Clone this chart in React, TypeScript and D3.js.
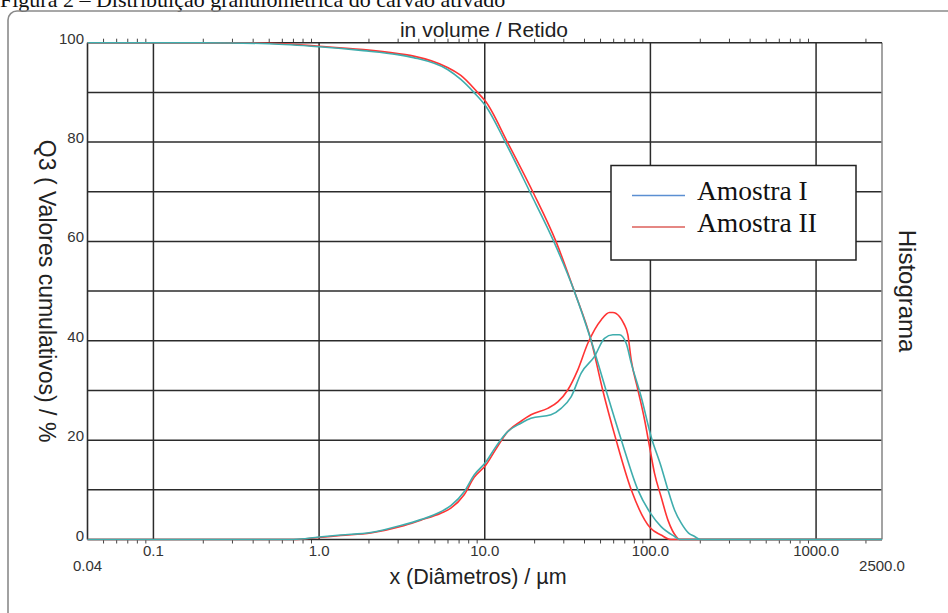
import React from "react";
import * as d3 from "d3";

// Cumulative retained Q3 (%) vs diameter (µm)
const cumDiamI = [0.04, 0.2, 0.5, 1.0, 1.85, 2.98, 3.72, 5.96, 7.17, 8.6, 10.16, 13.3, 18.7, 26.1, 34.7, 43.9, 54, 66.8, 84, 100, 116, 140, 150, 2500];
const cumValI = [100, 100, 99.8, 99.2, 98.4, 97.6, 97.0, 94.6, 92.6, 90, 87.2, 80, 70, 60, 50, 40, 30, 20, 10, 5.3, 2.6, 0.6, 0, 0];
const cumDiamII = [0.04, 0.2, 0.5, 1.0, 1.85, 2.98, 3.72, 5.96, 7.17, 9.05, 10.16, 13.7, 19.5, 26.9, 34.7, 43.9, 51.6, 62.1, 76.6, 100, 116, 133, 2500];
const cumValII = [100, 100, 99.9, 99.3, 98.6, 97.8, 97.3, 95.0, 93.4, 90, 88.1, 80, 70, 60, 50, 40, 30, 20, 10, 2.3, 0.9, 0, 0];

// Histogram values
const histDiamI = [0.04, 0.7, 1.0, 1.35, 2.05, 3.11, 4.11, 5.43, 6.24, 7.51, 8.63, 10.16, 11.68, 13.74, 16.54, 19.0, 25.1, 28.9, 33.2, 38.2, 45.9, 52.8, 59.3, 65.0, 71.4, 76.6, 88.0, 101, 116, 127.6, 140, 153.5, 170, 185, 200, 2500];
const histValI = [0, 0, 0.5, 0.9, 1.4, 2.8, 4.0, 5.6, 6.8, 9.6, 13.0, 15.6, 18.7, 21.7, 23.4, 24.4, 25.1, 26.4, 28.7, 33.5, 36.8, 40.5, 41.2, 41.2, 39.5, 35.5, 28.7, 20.7, 14.7, 10, 5.9, 3.3, 1.3, 0.6, 0, 0];
const histDiamII = [0.04, 0.7, 1.0, 1.35, 2.05, 3.11, 4.11, 5.43, 6.24, 7.51, 8.63, 10.16, 11.68, 13.74, 16.54, 19.0, 24.0, 27.6, 31.7, 36.4, 41.9, 50.4, 56.6, 59.3, 65.0, 69, 73.1, 76.6, 84.1, 92.2, 98.8, 105.9, 116, 127.6, 143, 150, 2500];
const histValII = [0, 0, 0.4, 0.8, 1.3, 2.6, 3.9, 5.3, 6.3, 9.0, 12.5, 15.0, 18.2, 21.7, 23.8, 25.1, 26.4, 27.7, 30.1, 34.1, 39.5, 44.2, 45.7, 45.7, 44.9, 43.5, 41.2, 36.1, 30.1, 24.1, 18.7, 13.3, 8.6, 3.9, 0.6, 0, 0];

const xMajorTicks = [0.1, 1, 10, 100, 1000];
const xMajorLabels = ["0.1", "1.0", "10.0", "100.0", "1000.0"];
const xEndTicks = [0.04, 2500];
const xEndLabels = ["0.04", "2500.0"];
const yGridValues = [10, 20, 30, 40, 50, 60, 70, 80, 90];
const yLabelValues = [0, 20, 40, 60, 80, 100];
const seriesNames = ["Amostra I", "Amostra II"];

const W = 948;
const H = 613;

export default function App() {
  const x = d3.scaleLog().domain([0.04, 2500]).range([87.5, 882]);
  const y = d3.scaleLinear().domain([0, 100]).range([539.5, 42.7]);
  const [x0, x1] = x.range();
  const [y0, y1] = y.range();

  const line = (ds: number[], vs: number[]) =>
    d3
      .line<number>()
      .x((d) => x(d))
      .y((_, i) => y(vs[i]))
      .curve(d3.curveMonotoneX)(ds) || "";

  const minor: number[] = [];
  for (let e = -2; e <= 3; e++) {
    for (let k = 2; k <= 9; k++) {
      const v = k * Math.pow(10, e);
      if (v > 0.04 && v < 2500) minor.push(v);
    }
  }

  const teal = "#3fadad";
  const red = "#ff3434";
  const grid = "#2b2b2b";
  const tickColor = "#333";
  const sans = "Liberation Sans, Arial, sans-serif";
  const serif = "Liberation Serif, Times New Roman, serif";

  return (
    <div style={{ position: "absolute", left: 0, top: 0, width: W, height: H, background: "#fff" }}>
      <svg width={W} height={H} style={{ display: "block" }}>
        <rect x={0} y={0} width={W} height={H} fill="#fff" />
        <text x={0} y={6.5} fontFamily={serif} fontSize={22} fill="#111">
          Figura 2 – Distribuição granulométrica do carvão ativado
        </text>
        {/* outer frame */}
        <rect x={8} y={11} width={W + 20} height={H + 20} rx={9} fill="none" stroke="#8a8a8a" strokeWidth={1.6} />

        {/* grid */}
        {yGridValues.map((v) => (
          <line key={"h" + v} x1={x0} x2={x1} y1={y(v)} y2={y(v)} stroke={grid} strokeWidth={1.5} />
        ))}
        {xMajorTicks.map((v) => (
          <line key={"v" + v} x1={x(v)} x2={x(v)} y1={y0} y2={y1} stroke={grid} strokeWidth={1.5} />
        ))}
        {/* minor ticks */}
        {minor.map((v) => (
          <g key={"m" + v}>
            <line x1={x(v)} x2={x(v)} y1={y0} y2={y0 + 4} stroke="#444" strokeWidth={1} />
            <line x1={x(v)} x2={x(v)} y1={y1} y2={y1 - 4} stroke="#444" strokeWidth={1} />
          </g>
        ))}
        {/* frame */}
        <line x1={x1} x2={x1} y1={y0} y2={y1} stroke="#8c8c8c" strokeWidth={1.6} />
        <line x1={x0} x2={x0} y1={y0} y2={y1} stroke={grid} strokeWidth={1.6} />
        <line x1={x0} x2={x1} y1={y1} y2={y1} stroke={grid} strokeWidth={1.6} />
        <line x1={x0} x2={x1} y1={y0} y2={y0} stroke={grid} strokeWidth={1.6} />

        {/* curves */}
        <path d={line(histDiamII, histValII)} fill="none" stroke={red} strokeWidth={1.6} />
        <path d={line(cumDiamII, cumValII)} fill="none" stroke={red} strokeWidth={1.6} />
        <path d={line(histDiamI, histValI)} fill="none" stroke={teal} strokeWidth={1.6} />
        <path d={line(cumDiamI, cumValI)} fill="none" stroke={teal} strokeWidth={1.6} />

        {/* y tick labels */}
        {yLabelValues.map((v) => (
          <text key={"yl" + v} x={84} y={y(v) + 1} textAnchor="end" fontFamily={sans} fontSize={15} fill={tickColor}>
            {v}
          </text>
        ))}
        {/* x tick labels */}
        {xMajorTicks.map((v, i) => (
          <text key={"xl" + v} x={x(v)} y={556} textAnchor="middle" fontFamily={sans} fontSize={15} fill={tickColor}>
            {xMajorLabels[i]}
          </text>
        ))}
        {xEndTicks.map((v, i) => (
          <text key={"xe" + v} x={x(v)} y={571} textAnchor="middle" fontFamily={sans} fontSize={15} fill={tickColor}>
            {xEndLabels[i]}
          </text>
        ))}

        {/* titles */}
        <text x={484} y={37} textAnchor="middle" fontFamily={sans} fontSize={21} fill="#222">
          in volume / Retido
        </text>
        <text x={478} y={584} textAnchor="middle" fontFamily={sans} fontSize={21.5} fill="#222">
          x (Diâmetros) / µm
        </text>
        <text
          transform={`translate(39, ${(y0 + y1) / 2}) rotate(90)`}
          textAnchor="middle"
          fontFamily={sans}
          fontSize={23}
          fill="#222"
        >
          Q3 ( Valores cumulativos) / %
        </text>
        <text
          transform={`translate(899, ${(y0 + y1) / 2}) rotate(90)`}
          textAnchor="middle"
          fontFamily={sans}
          fontSize={24}
          fill="#222"
        >
          Histograma
        </text>

        {/* legend */}
        <rect x={611} y={165.5} width={245} height={94.5} fill="#fff" stroke="#222" strokeWidth={1.5} />
        <line x1={632} x2={685} y1={195.5} y2={195.5} stroke="#5b8fd2" strokeWidth={1.6} />
        <line x1={632} x2={685} y1={227} y2={227} stroke="#dc5f5a" strokeWidth={1.6} />
        <text x={697} y={200} fontFamily={serif} fontSize={27.5} fill="#111">
          {seriesNames[0]}
        </text>
        <text x={697} y={232} fontFamily={serif} fontSize={27.5} fill="#111">
          {seriesNames[1]}
        </text>
      </svg>
    </div>
  );
}
